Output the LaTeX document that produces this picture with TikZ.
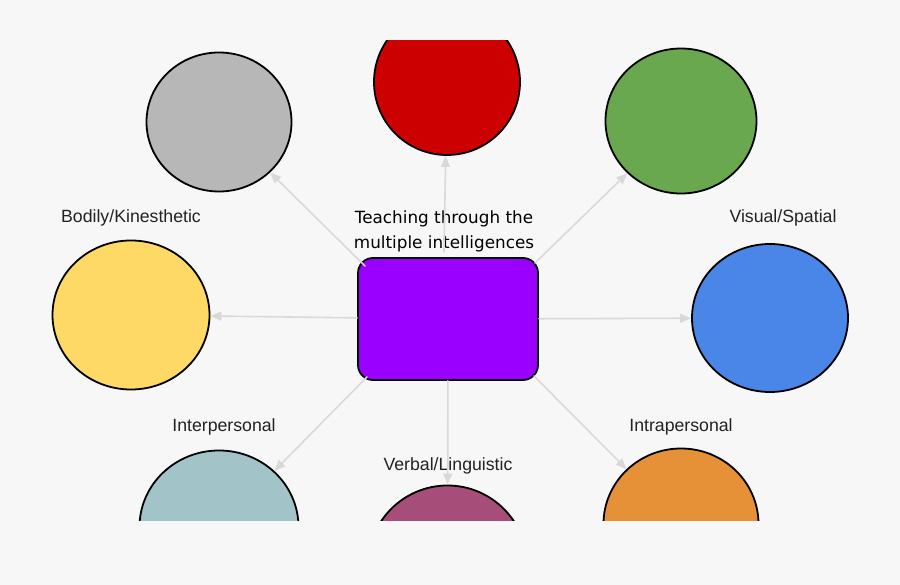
\documentclass[tikz,border=0pt]{standalone}
\usepackage{fontspec}
\setmainfont{Liberation Sans}
\newfontfamily\comicfont{DejaVu Sans}
\usepackage{tikz}
\usetikzlibrary{arrows.meta, shapes.geometric}
\definecolor{bgGray}{HTML}{F7F7F7}
\definecolor{linkGray}{HTML}{D9D9D9}
\definecolor{labelInk}{HTML}{222222}
\definecolor{hubPurple}{HTML}{9900FF}
\definecolor{bubGray}{HTML}{B7B7B7}
\definecolor{bubRed}{HTML}{CC0000}
\definecolor{bubGreen}{HTML}{6AA84F}
\definecolor{bubYellow}{HTML}{FFD966}
\definecolor{bubBlue}{HTML}{4A86E8}
\definecolor{bubTeal}{HTML}{A2C4C9}
\definecolor{bubMagenta}{HTML}{A64D79}
\definecolor{bubOrange}{HTML}{E69138}

\begin{document}
\begin{tikzpicture}[x=1pt, y=-1pt, line cap=round,
  bubble/.style={ellipse, draw=black, line width=1.8pt, inner sep=0pt},
  link/.style={draw=linkGray, line width=1.6pt, -{Triangle[length=11pt, width=9pt]}},
  lbl/.style={inner sep=0pt, text=labelInk, font=\fontsize{17.7}{21}\selectfont}]

  \fill[bgGray] (0,0) rectangle (900,585);
  \useasboundingbox (0,0) rectangle (900,585);

  \begin{scope}
    \clip (0,41) rectangle (900,520);
    \node[bubble, fill=bubGray, minimum width=145pt, minimum height=139pt] (topLeft) at (219,122) {};
    \node[bubble, fill=bubRed, minimum width=146pt, minimum height=146pt] (top) at (447,82) {};
    \node[bubble, fill=bubGreen, minimum width=151pt, minimum height=145pt] (topRight) at (681,121) {};
    \node[bubble, fill=bubYellow, minimum width=157pt, minimum height=149pt] (bodily) at (131,315) {};
    \node[bubble, fill=bubBlue, minimum width=156pt, minimum height=148pt] (visual) at (770,318) {};
    \node[bubble, fill=bubTeal, minimum width=159pt, minimum height=153pt] (inter) at (219,527) {};
    \node[bubble, fill=bubMagenta, minimum width=159pt, minimum height=159pt] (verbal) at (447.5,565) {};
    \node[bubble, fill=bubOrange, minimum width=155pt, minimum height=151pt] (intra) at (681,524) {};
  \end{scope}

  \node[draw=black, fill=hubPurple, line width=1.8pt, rounded corners=15pt,
        minimum width=180pt, minimum height=122pt] (hub) at (448,319) {};
  \node[align=center, inner sep=0pt, font=\comicfont\fontsize{16.8}{25}\selectfont] (title) at (444,231)
    {Teaching through the\\multiple intelligences};

  \node[lbl] (bodilyLbl) at (131,218) {Bodily/Kinesthetic};
  \node[lbl] (visualLbl) at (783,218) {Visual/Spatial};
  \node[lbl] (interLbl) at (224,427) {Interpersonal};
  \node[lbl] (intraLbl) at (681,427) {Intrapersonal};
  \node[lbl] (verbalLbl) at (448,466) {Verbal/Linguistic};

  % connectors from the hub
  \draw[link] ([shift={(8,9)}]hub.north west) -- (topLeft);
  \draw[link] (title.south) -- (top);
  \draw[link] ([shift={(-4,6)}]hub.north east) -- (topRight);
  \draw[link] (hub) -- (bodily);
  \draw[link] (hub) -- (visual);
  \draw[link] ([shift={(10,-4)}]hub.south west) -- (inter);
  \draw[link] (hub) -- (verbal);
  \draw[link] ([shift={(-5,-5)}]hub.south east) -- (intra);

\end{tikzpicture}
\end{document}
